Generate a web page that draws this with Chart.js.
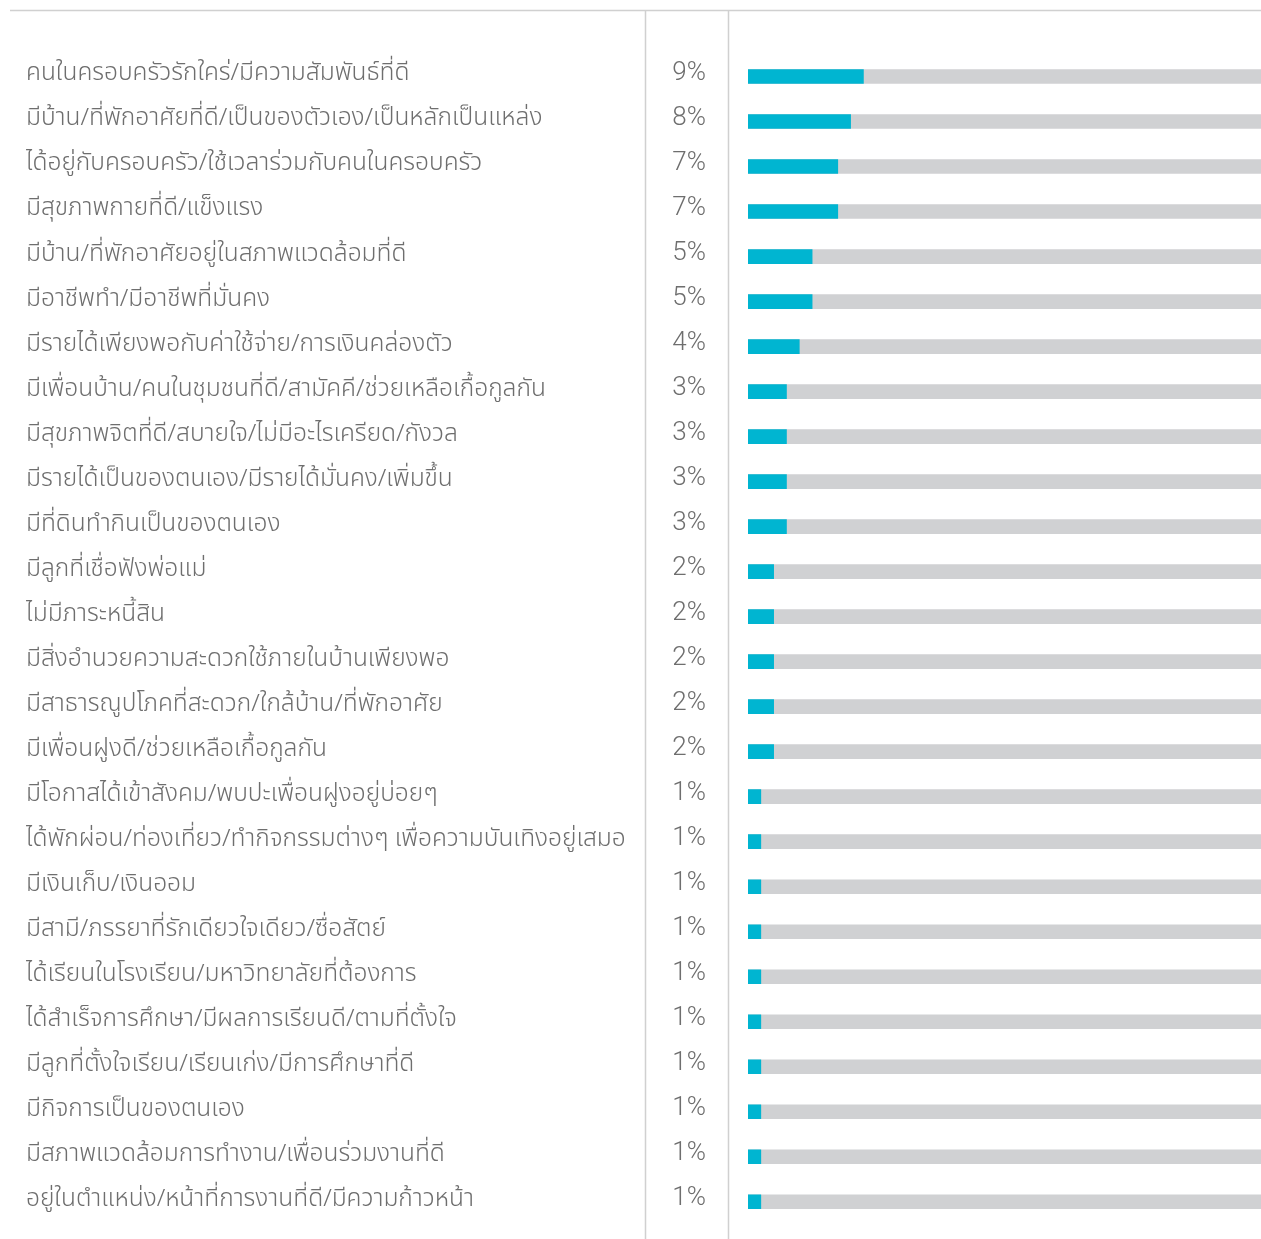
<!DOCTYPE html>
<html>
<head>
<meta charset="utf-8">
<script src="https://cdn.jsdelivr.net/npm/chart.js@4.4.1/dist/chart.umd.min.js"></script>
<style>
  html, body { margin: 0; padding: 0; background: #fff; }
  #wrap { width: 1261px; height: 1239px; position: relative; }
</style>
</head>
<body>
<div id="wrap"><canvas id="graphicFirst"></canvas></div>
<script>
// Data
const categories = [
  'คนในครอบครัวรักใคร่/มีความสัมพันธ์ที่ดี',
  'มีบ้าน/ที่พักอาศัยที่ดี/เป็นของตัวเอง/เป็นหลักเป็นแหล่ง',
  'ได้อยู่กับครอบครัว/ใช้เวลาร่วมกับคนในครอบครัว',
  'มีสุขภาพกายที่ดี/แข็งแรง',
  'มีบ้าน/ที่พักอาศัยอยู่ในสภาพแวดล้อมที่ดี',
  'มีอาชีพทำ/มีอาชีพที่มั่นคง',
  'มีรายได้เพียงพอกับค่าใช้จ่าย/การเงินคล่องตัว',
  'มีเพื่อนบ้าน/คนในชุมชนที่ดี/สามัคคี/ช่วยเหลือเกื้อกูลกัน',
  'มีสุขภาพจิตที่ดี/สบายใจ/ไม่มีอะไรเครียด/กังวล',
  'มีรายได้เป็นของตนเอง/มีรายได้มั่นคง/เพิ่มขึ้น',
  'มีที่ดินทำกินเป็นของตนเอง',
  'มีลูกที่เชื่อฟังพ่อแม่',
  'ไม่มีภาระหนี้สิน',
  'มีสิ่งอำนวยความสะดวกใช้ภายในบ้านเพียงพอ',
  'มีสาธารณูปโภคที่สะดวก/ใกล้บ้าน/ที่พักอาศัย',
  'มีเพื่อนฝูงดี/ช่วยเหลือเกื้อกูลกัน',
  'มีโอกาสได้เข้าสังคม/พบปะเพื่อนฝูงอยู่บ่อยๆ',
  'ได้พักผ่อน/ท่องเที่ยว/ทำกิจกรรมต่างๆ เพื่อความบันเทิงอยู่เสมอ',
  'มีเงินเก็บ/เงินออม',
  'มีสามี/ภรรยาที่รักเดียวใจเดียว/ซื่อสัตย์',
  'ได้เรียนในโรงเรียน/มหาวิทยาลัยที่ต้องการ',
  'ได้สำเร็จการศึกษา/มีผลการเรียนดี/ตามที่ตั้งใจ',
  'มีลูกที่ตั้งใจเรียน/เรียนเก่ง/มีการศึกษาที่ดี',
  'มีกิจการเป็นของตนเอง',
  'มีสภาพแวดล้อมการทำงาน/เพื่อนร่วมงานที่ดี',
  'อยู่ในตำแหน่ง/หน้าที่การงานที่ดี/มีความก้าวหน้า'
];
const percentValues = [9, 8, 7, 7, 5, 5, 4, 3, 3, 3, 3, 2, 2, 2, 2, 2, 1, 1, 1, 1, 1, 1, 1, 1, 1, 1];
const trackMax = 40;
const trackValues = categories.map(() => trackMax);

const thaiFont = '"Noto Sans Thai", "Noto Sans", sans-serif';
const numFont = 'Roboto, "Liberation Sans", Arial, sans-serif';

//-----PLUGIN: frame lines + percent column
const tablePlugin = {
  id: 'tablePlugin',
  beforeDraw(chart) {
    const ctx = chart.ctx;
    ctx.save();
    ctx.strokeStyle = '#d0d0d0';
    ctx.lineWidth = 1.5;
    ctx.beginPath();
    ctx.moveTo(10, 10.5); ctx.lineTo(1261, 10.5);
    ctx.moveTo(645.5, 10.5); ctx.lineTo(645.5, 1239);
    ctx.moveTo(728.5, 10.5); ctx.lineTo(728.5, 1239);
    ctx.stroke();
    ctx.restore();
  },
  afterDraw(chart) {
    const ctx = chart.ctx;
    const y = chart.scales.y;
    ctx.save();
    ctx.fillStyle = '#6e6e6e';
    ctx.font = '300 26px ' + numFont;
    ctx.textAlign = 'right';
    ctx.textBaseline = 'middle';
    percentValues.forEach((v, i) => {
      ctx.fillText(v + '%', 706, y.getPixelForValue(i) - 3);
    });
    ctx.restore();
  }
};

//-----GRAPICH
let chart1;
function getDrawGraphicFirst() {
  var ctx = document.getElementById('graphicFirst').getContext('2d');
  if (chart1) {
    chart1.destroy();
  }
  chart1 = new Chart(ctx, {
    type: 'bar',
    data: {
      labels: categories,
      datasets: [
        {
          label: 'value',
          data: percentValues,
          backgroundColor: '#00b5d1',
          barThickness: 14,
          grouped: false,
          order: 1
        },
        {
          label: 'track',
          data: trackValues,
          backgroundColor: '#d0d1d3',
          barThickness: 14,
          grouped: false,
          order: 2
        }
      ]
    },
    options: {
      indexAxis: 'y',
      responsive: true,
      maintainAspectRatio: false,
      animation: false,
      layout: { padding: { top: 54, bottom: 13, left: 26, right: 0 } },
      plugins: {
        legend: { display: false },
        tooltip: { enabled: false }
      },
      scales: {
        x: {
          min: 0,
          max: trackMax,
          display: false
        },
        y: {
          offset: true,
          grid: { display: false },
          border: { display: false },
          afterFit: (scale) => { scale.width = 722; },
          ticks: {
            crossAlign: 'far',
            padding: 0,
            labelOffset: -1,
            color: '#6e6e6e',
            font: { family: thaiFont, size: 24.5, weight: 300 },
            autoSkip: false
          }
        }
      }
    },
    plugins: [tablePlugin]
  });
}

getDrawGraphicFirst();
</script>
</body>
</html>
